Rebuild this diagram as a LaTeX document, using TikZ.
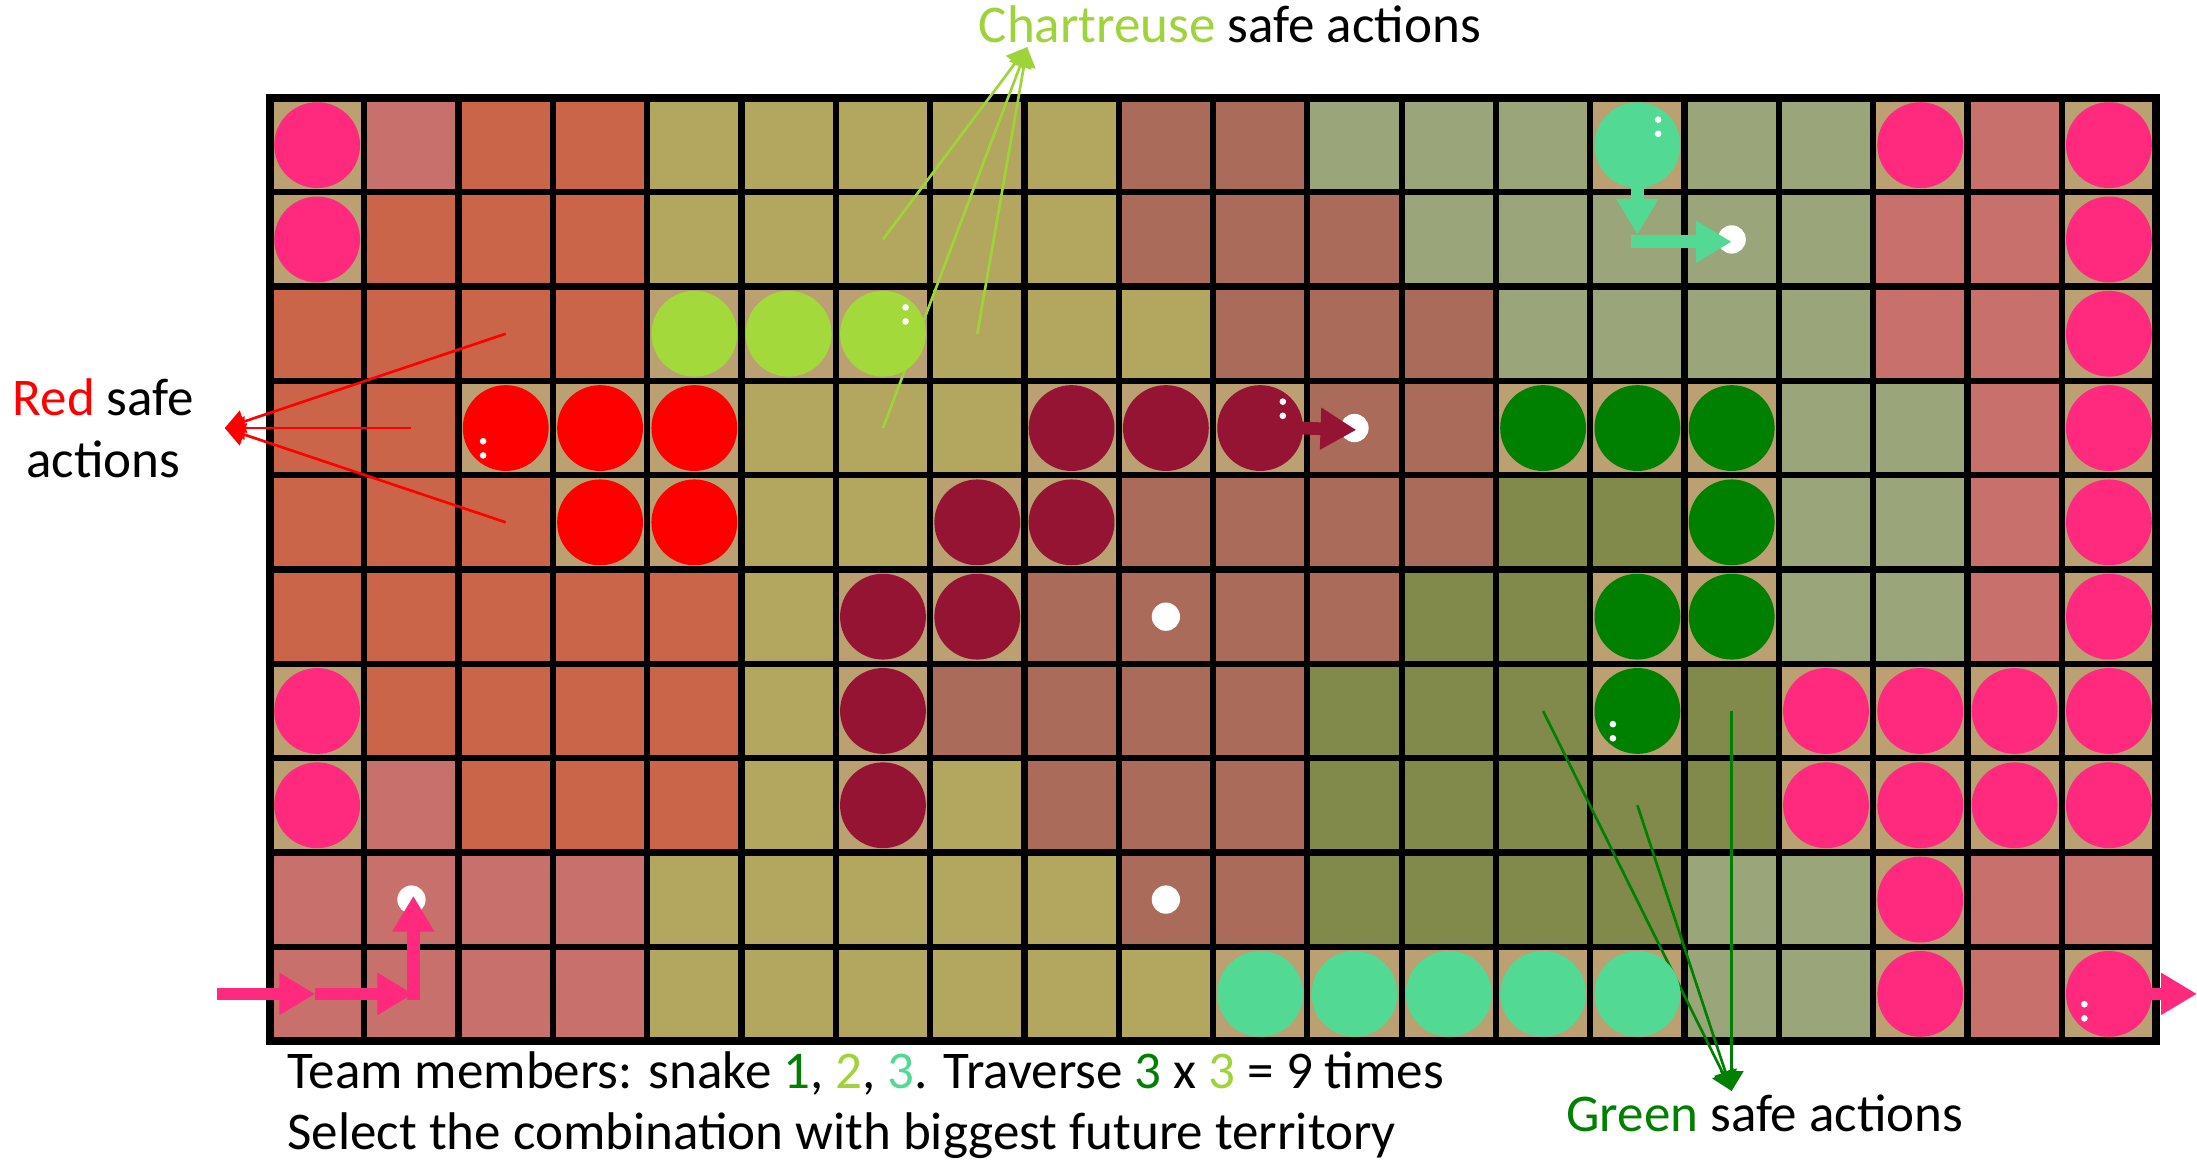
\documentclass[tikz,border=0pt]{standalone}
\usepackage{fontspec}
\setmainfont{Carlito}
\usetikzlibrary{arrows.meta}
\definecolor{terrR}{HTML}{CB654A}
\definecolor{terrP}{HTML}{C8706B}
\definecolor{terrY}{HTML}{B3A75F}
\definecolor{terrB}{HTML}{AA6B5A}
\definecolor{terrL}{HTML}{9AA67A}
\definecolor{terrD}{HTML}{818A4B}
\definecolor{snakebg}{HTML}{BBA071}
\definecolor{snakepink}{HTML}{FF2A7D}
\definecolor{snakered}{HTML}{FF0000}
\definecolor{snakechart}{HTML}{A3D93A}
\definecolor{snakemaroon}{HTML}{951433}
\definecolor{snakegreen}{HTML}{008000}
\definecolor{snakemint}{HTML}{52D993}
\definecolor{chartext}{HTML}{9FD33A}
\newcommand{\boardlayout}{%
{k,P,R,R,Y,Y,Y,Y,Y,B,B,L,L,L,n,L,L,k,P,k},%
{k,R,R,R,Y,Y,Y,Y,Y,B,B,B,L,L,L,L,L,P,P,k},%
{R,R,R,R,c,c,c,Y,Y,Y,B,B,B,L,L,L,L,P,P,k},%
{R,R,r,r,r,Y,Y,Y,m,m,m,B,B,g,g,g,L,L,P,k},%
{R,R,R,r,r,Y,Y,m,m,B,B,B,B,D,D,g,L,L,P,k},%
{R,R,R,R,R,Y,m,m,B,B,B,B,D,D,g,g,L,L,P,k},%
{k,R,R,R,R,Y,m,B,B,B,B,D,D,D,g,D,k,k,k,k},%
{k,P,R,R,R,Y,m,Y,B,B,B,D,D,D,D,D,k,k,k,k},%
{P,P,P,P,Y,Y,Y,Y,Y,B,B,D,D,D,D,L,L,k,P,P},%
{P,P,P,P,Y,Y,Y,Y,Y,Y,n,n,n,n,n,L,L,k,P,k}}
\newcommand{\boardcells}{
  \foreach \r [count=\j] in \boardlayout {
    \foreach \x [count=\i] in \r {
      \fill[cell \x] (\i-1,10-\j) rectangle ++(1,1);
    }
  }
}
\newcommand{\boarddiscs}{
  \foreach \r [count=\j] in \boardlayout {
    \foreach \x [count=\i] in \r {
      \path[disc \x] (c-\i-\j) circle (0.455);
    }
  }
}
\newcommand{\snakeeyes}[3]{
  \fill[white] (c-#1) ++(#2,#3) circle (0.035) ++(0,-0.15) circle (0.035);
}
\tikzset{
  cell R/.style={fill=terrR}, cell P/.style={fill=terrP}, cell Y/.style={fill=terrY},
  cell B/.style={fill=terrB}, cell L/.style={fill=terrL}, cell D/.style={fill=terrD},
  cell k/.style={fill=snakebg}, cell r/.style={fill=snakebg}, cell c/.style={fill=snakebg},
  cell m/.style={fill=snakebg}, cell g/.style={fill=snakebg}, cell n/.style={fill=snakebg},
  disc R/.style={}, disc P/.style={}, disc Y/.style={},
  disc B/.style={}, disc L/.style={}, disc D/.style={},
  disc k/.style={fill=snakepink}, disc r/.style={fill=snakered}, disc c/.style={fill=snakechart},
  disc m/.style={fill=snakemaroon}, disc g/.style={fill=snakegreen}, disc n/.style={fill=snakemint},
  gridline/.style={line width=1.9pt, black},
  pointer/.style={line width=0.8pt, -{Triangle[length=6pt,width=7pt]}},
  move/.style={line width=0.135cm, -{Triangle[length=0.38cm,width=0.42cm]}},
  food/.style={fill=white},
  label text/.style={font=\fontsize{16}{18.6}\selectfont, inner sep=0pt}
}

\begin{document}
\begin{tikzpicture}
  \useasboundingbox[fill=white] (-2.863,-1.283) rectangle (20.434,11.039);
  \foreach \i in {1,...,20}{
    \foreach \j in {1,...,10}{
      \coordinate (c-\i-\j) at (\i-0.5,10.5-\j);
    }
  }
  \boardcells
  \draw[gridline] (0,0) grid (20,10);
  \draw[gridline, line width=2.4pt] (0,0) rectangle (20,10);

  \coordinate (chart tip) at (8.03,10.54);
  \coordinate (red tip) at (-0.48,6.5);
  \coordinate (green tip) at (15.5,-0.53);
  \foreach \c in {7-2,7-4,8-3} \draw[pointer, chartext] (c-\c) -- (chart tip);
  \foreach \c in {3-3,2-4,3-5} \draw[pointer, red] (c-\c) -- (red tip);
  \foreach \c in {14-7,15-8,16-7} \draw[pointer, snakegreen] (c-\c) -- (green tip);

  \boarddiscs
  \snakeeyes{3-4}{-0.24}{-0.14}
  \snakeeyes{7-3}{0.24}{0.28}
  \snakeeyes{11-4}{0.24}{0.28}
  \snakeeyes{15-1}{0.22}{0.27}
  \snakeeyes{15-7}{-0.26}{-0.14}
  \snakeeyes{20-10}{-0.26}{-0.11}
  \foreach \c in {2-9,10-6,10-9,12-4,16-2} \fill[food] (c-\c) circle (0.15);

  \coordinate (pink start) at (-0.566,0.5);
  \coordinate (pink exit) at (20.434,0.5);
  \draw[move, snakemint] ([yshift=-0.45cm]c-15-1) -- ([yshift=0.05cm]c-15-2);
  \draw[move, snakemint] ([xshift=-0.07cm,yshift=-0.025cm]c-15-2) -- ([yshift=-0.025cm]c-16-2);
  \draw[move, snakemaroon] ([xshift=0.44cm]c-11-4) -- ([xshift=0.02cm,yshift=-0.02cm]c-12-4);
  \draw[move, snakepink] (pink start) -- ([xshift=-0.02cm]c-1-10);
  \draw[move, snakepink] ([xshift=-0.02cm]c-1-10) -- ([xshift=0.02cm]c-2-10);
  \draw[move, snakepink] ([xshift=0.02cm,yshift=-0.07cm]c-2-10) -- ([xshift=0.02cm,yshift=0.04cm]c-2-9);
  \draw[move, snakepink] ([xshift=0.41cm]c-20-10) -- (pink exit);

  \node[label text, anchor=base west] (chart label) at (7.51,10.593) {\textcolor{chartext}{Chartreuse} safe actions};
  \node[label text, anchor=base, align=center] (red label) at (-1.766,5.975) {\textcolor{red}{Red} safe\\actions};
  \node[label text, anchor=base west] (green label) at (13.74,-0.964) {\textcolor{snakegreen}{Green} safe actions};
  \node[label text, anchor=base west, align=left] (caption) at (0.18,-1.155) {Team members: snake \textcolor{snakegreen}{1}, \textcolor{chartext}{2}, \textcolor{snakemint}{3}. Traverse \textcolor{snakegreen}{3} x \textcolor{chartext}{3} = 9 times\\Select the combination with biggest future territory};
\end{tikzpicture}
\end{document}
